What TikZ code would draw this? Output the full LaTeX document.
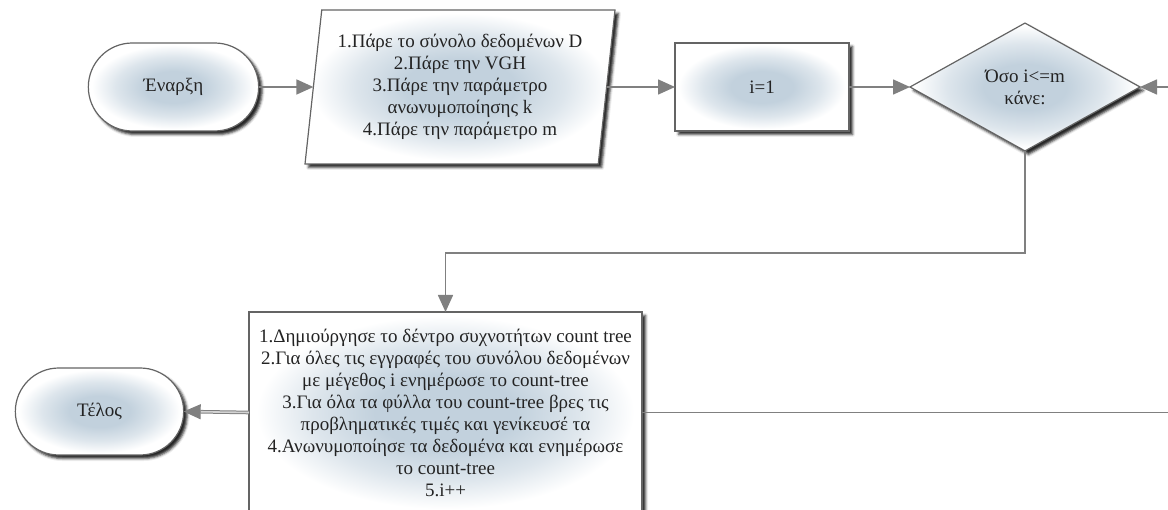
\documentclass[tikz,border=0pt]{standalone}
\usepackage{fontspec}
\setmainfont{Liberation Serif}
\usetikzlibrary{shapes.geometric,shapes.misc,arrows.meta,shadows.blur}
\definecolor{edgegray}{RGB}{100,100,100}
\definecolor{linegray}{RGB}{128,128,128}
\definecolor{fillcore}{RGB}{194,209,221}
\definecolor{inkgray}{RGB}{35,35,35}
% soft bluish glow that fades to white towards the border
% (TikZ fits the central 50bp square of a shading to the path)
\pgfdeclareradialshading{softglow}{\pgfpoint{0bp}{0bp}}{%
  color(0bp)=(fillcore); color(9bp)=(fillcore); color(17bp)=(fillcore!55!white);
  color(24bp)=(white); color(50bp)=(white)}
\tikzset{
  base/.style={draw=edgegray, line width=1.2pt, shading=softglow,
    text=inkgray, font=\fontsize{19}{22}\selectfont, align=center, outer sep=0pt,
    blur shadow={shadow xshift=3.5pt, shadow yshift=-3.5pt, shadow opacity=85,
      shadow blur steps=3, shadow blur radius=2.5pt}},
  terminal/.style={base, rounded rectangle, minimum width=177pt, minimum height=88pt},
  iobox/.style={base, trapezium, trapezium left angle=81.5, trapezium right angle=98.5,
    trapezium stretches body, minimum width=310pt, minimum height=154pt},
  process/.style={base, rectangle},
  decision/.style={base, diamond, minimum width=230pt, minimum height=118pt},
  flow/.style={draw=linegray, line width=1.6pt, -{Triangle[length=17pt,width=15pt]}},
  link/.style={draw=linegray, line width=1.6pt},
  exitflow/.style={draw=linegray, line width=1pt, double=linegray!35, double distance=1.6pt,
    -{Triangle[length=17pt,width=15pt,fill=linegray]}},
}
\begin{document}
\begin{tikzpicture}[x=1pt,y=-1pt]
  \useasboundingbox (0,0) rectangle (1168,510);

  % top row
  \node[terminal] (start) at (173.5,87) {Έναρξη};
  \node[iobox] (input) at (460,87) {1.Πάρε το σύνολο δεδομένων D\\2.Πάρε την VGH\\3.Πάρε την παράμετρο\\ανωνυμοποίησης k\\4.Πάρε την παράμετρο m};
  \node[process, minimum width=174pt, minimum height=88pt] (init) at (762,87) {i=1};
  \node[decision] (loop) at (1025,87) {Όσο i<=m\\κάνε:};

  % loop body and end
  \node[process, minimum width=393pt, minimum height=201pt] (body) at (445.5,412.5)
    {1.Δημιούργησε το δέντρο συχνοτήτων count tree\\2.Για όλες τις εγγραφές του συνόλου δεδομένων\\με μέγεθος i ενημέρωσε το count-tree\\3.Για όλα τα φύλλα του count-tree βρες τις\\προβληματικές τιμές και γενίκευσέ τα\\4.Ανωνυμοποίησε τα δεδομένα και ενημέρωσε\\το count-tree\\5.i++};
  \node[terminal, minimum width=175pt, minimum height=87pt] (stop) at (99.5,411.5) {Τέλος};

  % free ends and bends
  \coordinate (backin) at (1168,87);
  \coordinate (backout) at (1168,412.5);
  \coordinate (bend) at (1025,253);

  % connectors
  \draw[flow] (start) -- (input);
  \draw[flow] (input.east) -- (init);
  \draw[flow] (init) -- (loop.west);
  \draw[flow] (backin) -- (loop.east);
  \draw[flow] (loop.south) -- (bend) -| (body.north);
  \draw[link] (body.east) -- (backout);
  \draw[exitflow] (body.west) -- (stop.east);
\end{tikzpicture}
\end{document}
